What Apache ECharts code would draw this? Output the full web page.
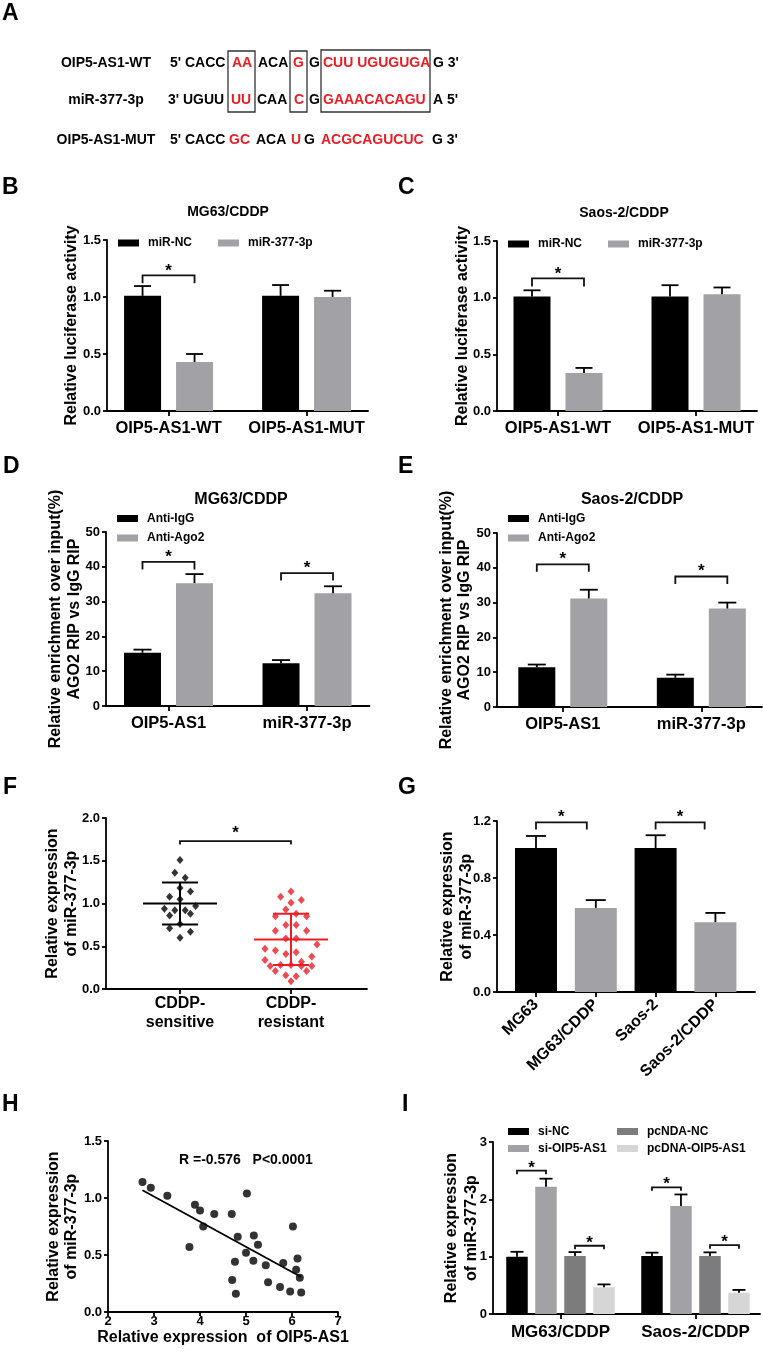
<!DOCTYPE html>
<html>
<head>
<meta charset="utf-8">
<title>OIP5-AS1 / miR-377-3p figure</title>
<script src="https://cdn.jsdelivr.net/npm/echarts@6.0.0/dist/echarts.min.js"></script>
<style>
html,body{margin:0;padding:0;background:#ffffff;}
#chart{width:763px;height:1352px;}
</style>
</head>
<body>
<div id="chart"></div>
<script>
// ================= DATA =================
// Panel A: sequences (segment text, highlighted flag)
const seqLabels = ['OIP5-AS1-WT', 'miR-377-3p', 'OIP5-AS1-MUT'];
const seqWT  = [["5' CACC",0],["AA",1],["ACA",0],["G",1],["G",0],["CUU UGUGUGA",1],["G 3'",0]];
const seqMiR = [["3' UGUU",0],["UU",1],["CAA",0],["C",1],["G",0],["GAAACACAGU",1],["A 5'",0]];
const seqMUT = [["5' CACC",0],["GC",1],["ACA",0],["U",1],["G",0],["ACGCAGUCUC",1],["G 3'",0]];

// Panels B / C: luciferase
const lucCats = ['OIP5-AS1-WT', 'OIP5-AS1-MUT'];
const mgLucNC = [1.01, 1.01],  mgLucNCErr = [0.086, 0.095];
const mgLuc377 = [0.43, 1.00], mgLuc377Err = [0.07, 0.055];
const saLucNC = [1.01, 1.01],  saLucNCErr = [0.055, 0.10];
const saLuc377 = [0.335, 1.03], saLuc377Err = [0.045, 0.06];

// Panels D / E: RIP
const ripCats = ['OIP5-AS1', 'miR-377-3p'];
const mgIgG = [15.3, 12.3],  mgIgGErr = [0.9, 0.9];
const mgAgo2 = [35.3, 32.4], mgAgo2Err = [2.6, 2.0];
const saIgG = [11.4, 8.4],   saIgGErr = [0.8, 0.9];
const saAgo2 = [31.2, 28.3], saAgo2Err = [2.5, 1.7];

// Panel F: scatter (column slot, value)
const fCats = ['CDDP-\nsensitive', 'CDDP-\nresistant'];
const sensSlot = [0,-1,1,0,2,-2,0,3,-3,-1,1,2,-2,0,-2,2,0];
const sensVal  = [1.51,1.36,1.30,1.18,1.14,1.08,1.05,0.97,0.94,0.92,0.92,0.88,0.86,0.76,0.71,0.67,0.60];
const resSlot = [0,-2,2,0,-1,1,-3,3,-1,1,-3,3,-1,1,5,-5,-3,-1,1,4,-5,2,-4,-2,0,2,4,-3,3,-1,1,0];
const resVal  = [1.14,1.08,1.04,1.01,0.93,0.88,0.85,0.85,0.75,0.75,0.68,0.68,0.59,0.59,0.52,0.47,0.45,0.41,0.43,0.38,0.34,0.32,0.27,0.28,0.28,0.27,0.27,0.21,0.21,0.16,0.15,0.09];
const fMean = [1.00, 0.58];
const fSD   = [0.245, 0.30];

// Panel G: cell lines
const cellCats = ['MG63', 'MG63/CDDP', 'Saos-2', 'Saos-2/CDDP'];
const cellExpr = [1.01, 0.59, 1.01, 0.49];
const cellErr  = [0.085, 0.055, 0.09, 0.065];

// Panel H: correlation
const hX = [2.75,2.93,3.29,3.89,4.00,4.31,4.69,5.02,4.07,3.77,4.82,5.17,5.26,6.02,5.00,4.76,5.16,5.43,5.81,6.12,6.09,4.70,4.78,5.48,5.74,5.96,6.17,6.20];
const hY = [1.14,1.09,1.02,0.94,0.89,0.86,0.86,1.04,0.75,0.57,0.66,0.67,0.59,0.75,0.52,0.44,0.45,0.41,0.43,0.47,0.37,0.28,0.16,0.26,0.22,0.18,0.30,0.17];
const hFit = [1.674, -0.2204]; // intercept, slope
const hStat = 'R =-0.576   P<0.0001';

// Panel I
const iCats = ['MG63/CDDP', 'Saos-2/CDDP'];
const siNC  = [1.00, 1.01],  siNCErr  = [0.085, 0.06];
const siOIP = [2.22, 1.885], siOIPErr = [0.14, 0.20];
const pcNC  = [1.01, 1.01],  pcNCErr  = [0.07, 0.065];
const pcOIP = [0.466, 0.372], pcOIPErr = [0.05, 0.048];

// significance brackets: [group, fromSeries, toSeries, level]
const sigB = [[0,0,1,1.19]];
const sigC = [[0,0,1,1.17]];
const sigD = [[0,0,1,41.4],[1,0,1,38.2]];
const sigE = [[0,0,1,41.0],[1,0,1,37.5]];
const sigI = [[0,0,1,2.50],[0,2,3,1.19],[1,0,1,2.21],[1,2,3,1.20]];
const sigF = [[0,1,1.73]];           // [xStart, xEnd, level]
const sigG = [[0,0.85,1.19],[2,2.82,1.19]];

// ================= STYLE / LAYOUT =================
const FONT = '"Liberation Sans", Arial, Helvetica, sans-serif';
const C_BLACK = '#000000', C_GRAY = '#a2a2a6', C_DGRAY = '#7c7c7e', C_LGRAY = '#d6d6d6', C_RED = '#ec1c24';
const AX_W = 1.8;
const cellColors = [C_BLACK, C_GRAY, C_BLACK, C_GRAY];

const LAY = {
  B:{left:107, top:240, width:261, height:171, xMin:-0.446, xMax:1.445},
  C:{left:497, top:241, width:260, height:170, xMin:-0.442, xMax:1.442},
  D:{left:106, top:532, width:263.5, height:174, xMin:-0.451, xMax:1.451},
  E:{left:497, top:533, width:265, height:174, xMin:-0.475, xMax:1.438},
  F:{left:106, top:818, width:261, height:171, xMin:-0.667, xMax:1.685},
  G:{left:497, top:821, width:258, height:171, xMin:-0.652, xMax:3.662},
  H:{left:108, top:1141, width:230, height:171},
  I:{left:493, top:1142, width:267, height:172, xMin:-0.5, xMax:1.478}
};

const grids = [], xAxes = [], yAxes = [], series = [], legends = [], elements = [];

function txt(text, x, y, size, color, align) {
  elements.push({type:'text', x:x, y:y, silent:true, z:10,
    style:{text:text, fill:color || '#000', font:'bold ' + size + 'px ' + FONT,
      textAlign:align || 'left', textVerticalAlign:'middle', align:align || 'left', verticalAlign:'middle'}});
}
function box(x, y, w, h) {
  elements.push({type:'rect', silent:true, z:9, shape:{x:x, y:y, width:w, height:h},
    style:{fill:'none', stroke:'#333', lineWidth:1.3}});
}
function addGrid(L) {
  grids.push({left:L.left, top:L.top, width:L.width, height:L.height, containLabel:false, outerBoundsMode:'none'});
  return grids.length - 1;
}
function catXAxis(gi, L, cats, lab) {
  const ticks = cats.map(function (c, i) { return i; });
  xAxes.push({gridIndex:gi, type:'value', min:L.xMin, max:L.xMax, splitLine:{show:false},
    axisLine:{show:true, onZero:false, lineStyle:{color:'#000', width:AX_W}},
    axisTick:{show:true, length:5, customValues:ticks, lineStyle:{color:'#000', width:AX_W}},
    axisLabel:Object.assign({show:true, customValues:ticks, formatter:function (v) { return cats[Math.round(v)]; },
      color:'#000', fontFamily:FONT, fontWeight:'bold', fontSize:16.5, lineHeight:18, margin:8, hideOverlap:false}, lab || {})});
}
function valYAxis(gi, y) {
  yAxes.push({gridIndex:gi, type:'value', min:0, max:y.max, interval:y.interval, splitLine:{show:false},
    axisLine:{show:true, onZero:false, lineStyle:{color:'#000', width:AX_W}},
    axisTick:{show:true, length:4, lineStyle:{color:'#000', width:AX_W}},
    axisLabel:{color:'#000', fontFamily:FONT, fontWeight:'bold', fontSize:13, margin:6,
      formatter:function (v) { return v.toFixed(y.digits); }},
    name:y.name, nameLocation:'middle', nameRotate:90, nameGap:y.nameGap, nameMoveOverlap:false,
    nameTextStyle:{color:'#000', fontFamily:FONT, fontWeight:'bold', fontSize:16, lineHeight:y.lh || 18}});
}
function errSeries(gi, vals, errs, offPx, cap) {
  series.push({type:'custom', xAxisIndex:gi, yAxisIndex:gi, silent:true, z:5, clip:false,
    data: vals.map(function (v, i) { return [i, v, errs[i]]; }), encode:{x:0, y:1},
    renderItem: function (params, api) {
      const p = api.coord([api.value(0), api.value(1)]);
      const q = api.coord([api.value(0), api.value(1) + api.value(2)]);
      const x = p[0] + offPx;
      const st = {stroke:'#000', lineWidth:AX_W};
      return {type:'group', children:[
        {type:'line', shape:{x1:x, y1:p[1], x2:x, y2:q[1]}, style:st},
        {type:'line', shape:{x1:x - cap / 2, y1:q[1], x2:x + cap / 2, y2:q[1]}, style:st}]};
    }});
}
function sigSeries(gi, items, legPx, starPx) {
  series.push({type:'custom', xAxisIndex:gi, yAxisIndex:gi, silent:true, z:6, clip:false,
    data: items, encode:{x:[0, 1], y:2},
    renderItem: function (params, api) {
      const a = api.coord([api.value(0), api.value(2)]);
      const b = api.coord([api.value(1), api.value(2)]);
      return {type:'group', children:[
        {type:'polyline', shape:{points:[[a[0], a[1] + legPx], [a[0], a[1]], [b[0], a[1]], [b[0], a[1] + legPx]]},
          style:{stroke:'#111', lineWidth:AX_W, fill:'none'}},
        {type:'text', style:{text:'*', x:(a[0] + b[0]) / 2, y:a[1] - starPx, fill:'#000', font:'bold 17px ' + FONT,
          align:'center', verticalAlign:'middle', textAlign:'center', textVerticalAlign:'middle'}}]};
    }});
}
function barPanel(o) {
  const gi = addGrid(o.L);
  catXAxis(gi, o.L, o.cats, o.xl);
  valYAxis(gi, o.y);
  const n = o.groups.length;
  const unitPx = o.L.width / (o.L.xMax - o.L.xMin);
  const off = function (s) { return (s - (n - 1) / 2) * (o.bw + o.gapPx); };
  o.groups.forEach(function (g) {
    series.push({type:'bar', name:g.name, xAxisIndex:gi, yAxisIndex:gi, barWidth:o.bw,
      barGap:(o.gapPx / o.bw * 100).toFixed(1) + '%', silent:true, z:2,
      itemStyle:{color:g.color, borderWidth:0},
      data:g.vals.map(function (v, i) { return [i, v]; })});
  });
  o.groups.forEach(function (g, s) { errSeries(gi, g.vals, g.errs, off(s), o.cap); });
  sigSeries(gi, o.sig.map(function (it) {
    return [it[0] + off(it[1]) / unitPx, it[0] + off(it[2]) / unitPx, it[3]];
  }), o.legPx, o.starPx);
}
function legend(names, left, top, orient, gap) {
  legends.push({data:names, left:left, top:top, orient:orient, itemWidth:21, itemHeight:7, itemGap:gap,
    icon:'rect', padding:0, selectedMode:false,
    textStyle:{color:'#000', fontFamily:FONT, fontWeight:'bold', fontSize:12, lineHeight:14, padding:[0, 0, 0, 4]}});
}

// ================= PANEL A =================
const seqRows = [seqWT, seqMiR, seqMUT];
const rowY = [63, 100, 140];
const segX = [[170,232,258,293,309,323,433],[168,231,257,294,309,323,433],[170,229,256,291,304,321,432]];
seqLabels.forEach(function (l, r) { txt(l, 106, rowY[r], 14, '#000', 'center'); });
seqRows.forEach(function (row, r) {
  row.forEach(function (seg, k) { txt(seg[0], segX[r][k], rowY[r], 14, seg[1] ? C_RED : '#000', 'left'); });
});
box(228, 51, 27, 61); box(290, 51, 17, 61); box(321, 50, 109, 62);

// panel letters
[['A',2,13.5],['B',2,188],['C',398,188],['D',3,467],['E',398,467],['F',3,788],['G',398,788],['H',2,1105],['I',402,1105]]
  .forEach(function (p) { txt(p[0], p[1], p[2], 23, '#000', 'left'); });

// titles
txt('MG63/CDDP', 228, 212, 14, '#000', 'center');
txt('Saos-2/CDDP', 624, 213, 14, '#000', 'center');
txt('MG63/CDDP', 241, 500, 16, '#000', 'center');
txt('Saos-2/CDDP', 632, 500, 16, '#000', 'center');
txt(hStat, 179, 1160, 14, '#000', 'left');

// ================= PANELS B-E, I =================
barPanel({L:LAY.B, cats:lucCats, bw:37, gapPx:15, cap:17, legPx:8, starPx:4.5, sig:sigB,
  groups:[{name:'miR-NC', vals:mgLucNC, errs:mgLucNCErr, color:C_BLACK},
          {name:'miR-377-3p', vals:mgLuc377, errs:mgLuc377Err, color:C_GRAY}],
  y:{max:1.5, interval:0.5, digits:1, name:'Relative luciferase activity', nameGap:26, lh:18}});
barPanel({L:LAY.C, cats:lucCats, bw:37, gapPx:15, cap:17, legPx:8, starPx:4.5, sig:sigC,
  groups:[{name:'miR-NC', vals:saLucNC, errs:saLucNCErr, color:C_BLACK},
          {name:'miR-377-3p', vals:saLuc377, errs:saLuc377Err, color:C_GRAY}],
  y:{max:1.5, interval:0.5, digits:1, name:'Relative luciferase activity', nameGap:25, lh:18}});
barPanel({L:LAY.D, cats:ripCats, bw:37, gapPx:15, cap:18, legPx:7.5, starPx:5, sig:sigD,
  groups:[{name:'Anti-IgG', vals:mgIgG, errs:mgIgGErr, color:C_BLACK},
          {name:'Anti-Ago2', vals:mgAgo2, errs:mgAgo2Err, color:C_GRAY}],
  y:{max:50, interval:10, digits:0, name:'Relative enrichment over input(%)\nAGO2 RIP vs IgG RIP', nameGap:21.5, lh:19}});
barPanel({L:LAY.E, cats:ripCats, bw:37, gapPx:15, cap:18, legPx:7.5, starPx:5, sig:sigE,
  groups:[{name:'Anti-IgG', vals:saIgG, errs:saIgGErr, color:C_BLACK},
          {name:'Anti-Ago2', vals:saAgo2, errs:saAgo2Err, color:C_GRAY}],
  y:{max:50, interval:10, digits:0, name:'Relative enrichment over input(%)\nAGO2 RIP vs IgG RIP', nameGap:23, lh:18.5}});
barPanel({L:LAY.I, cats:iCats, bw:21.5, gapPx:7.5, cap:13, legPx:3.5, starPx:2.5, sig:sigI,
  xl:{margin:9, fontSize:17},
  groups:[{name:'si-NC', vals:siNC, errs:siNCErr, color:C_BLACK},
          {name:'si-OIP5-AS1', vals:siOIP, errs:siOIPErr, color:C_GRAY},
          {name:'pcNDA-NC', vals:pcNC, errs:pcNCErr, color:C_DGRAY},
          {name:'pcDNA-OIP5-AS1', vals:pcOIP, errs:pcOIPErr, color:C_LGRAY}],
  y:{max:3, interval:1, digits:0, name:'Relative expression\nof miR-377-3p', nameGap:11, lh:20}});

legend(['miR-NC', 'miR-377-3p'], 118, 236, 'horizontal', 26);
legend(['miR-NC', 'miR-377-3p'], 508, 237, 'horizontal', 26);
legend(['Anti-IgG', 'Anti-Ago2'], 117, 511.5, 'vertical', 5.5);
legend(['Anti-IgG', 'Anti-Ago2'], 508, 511.5, 'vertical', 5.5);
legend(['si-NC', 'si-OIP5-AS1'], 508, 1124.5, 'vertical', 3);
legend(['pcNDA-NC', 'pcDNA-OIP5-AS1'], 617, 1124.5, 'vertical', 3);

// ================= PANEL F =================
(function () {
  const L = LAY.F;
  const gi = addGrid(L);
  catXAxis(gi, L, fCats, {fontSize:16, lineHeight:19, margin:5.5});
  valYAxis(gi, {max:2, interval:0.5, digits:1, name:'Relative expression\nof miR-377-3p', nameGap:24.5, lh:19});
  const slotU = 5.2 / (L.width / (L.xMax - L.xMin));
  series.push({type:'scatter', xAxisIndex:gi, yAxisIndex:gi, silent:true, z:2, symbol:'diamond', symbolSize:[7, 8],
    itemStyle:{color:C_BLACK}, data:sensVal.map(function (v, i) { return [0 + sensSlot[i] * slotU, v]; })});
  series.push({type:'scatter', xAxisIndex:gi, yAxisIndex:gi, silent:true, z:2, symbol:'diamond', symbolSize:[7, 8],
    itemStyle:{color:C_RED}, data:resVal.map(function (v, i) { return [1 + resSlot[i] * slotU, v]; })});
  const mColors = [C_BLACK, C_RED];
  series.push({type:'custom', xAxisIndex:gi, yAxisIndex:gi, silent:true, z:3, clip:false,
    data:fMean.map(function (m, i) { return [i, m, fSD[i]]; }), encode:{x:0, y:1},
    renderItem:function (params, api) {
      const g = api.value(0), m = api.value(1), s = api.value(2);
      const c = api.coord([g, m]), t = api.coord([g, m + s]), b = api.coord([g, m - s]);
      const st = {stroke:mColors[params.dataIndex], lineWidth:2};
      return {type:'group', children:[
        {type:'line', shape:{x1:c[0] - 37, y1:c[1], x2:c[0] + 37, y2:c[1]}, style:st},
        {type:'line', shape:{x1:c[0] - 18, y1:t[1], x2:c[0] + 18, y2:t[1]}, style:st},
        {type:'line', shape:{x1:c[0] - 18, y1:b[1], x2:c[0] + 18, y2:b[1]}, style:st},
        {type:'line', shape:{x1:c[0], y1:t[1], x2:c[0], y2:b[1]}, style:st}]};
    }});
  sigSeries(gi, sigF, 3.5, 8);
})();

// ================= PANEL G =================
(function () {
  const L = LAY.G;
  const gi = addGrid(L);
  catXAxis(gi, L, cellCats, {rotate:45, margin:10, fontSize:16, lineHeight:18});
  valYAxis(gi, {max:1.2, interval:0.4, digits:1, name:'Relative expression\nof miR-377-3p', nameGap:21, lh:19});
  series.push({type:'bar', xAxisIndex:gi, yAxisIndex:gi, barWidth:42, silent:true, z:2,
    data:cellExpr.map(function (v, i) { return {value:[i, v], itemStyle:{color:cellColors[i], borderWidth:0}}; })});
  errSeries(gi, cellExpr, cellErr, 0, 20);
  sigSeries(gi, sigG, 7, 5);
})();

// ================= PANEL H =================
(function () {
  const L = LAY.H;
  const gi = addGrid(L);
  xAxes.push({gridIndex:gi, type:'value', min:2, max:7, interval:1, splitLine:{show:false},
    axisLine:{show:true, onZero:false, lineStyle:{color:'#000', width:AX_W}},
    axisTick:{show:true, length:4, lineStyle:{color:'#000', width:AX_W}},
    axisLabel:{color:'#000', fontFamily:FONT, fontWeight:'bold', fontSize:13, margin:3},
    name:'Relative expression  of OIP5-AS1', nameLocation:'middle', nameGap:17, nameMoveOverlap:false,
    nameTextStyle:{color:'#000', fontFamily:FONT, fontWeight:'bold', fontSize:16, lineHeight:18}});
  valYAxis(gi, {max:1.5, interval:0.5, digits:1, name:'Relative expression\nof miR-377-3p', nameGap:27.5, lh:18});
  series.push({type:'scatter', xAxisIndex:gi, yAxisIndex:gi, silent:true, z:3, symbol:'circle', symbolSize:8,
    itemStyle:{color:'#000'}, data:hX.map(function (x, i) { return [x, hY[i]]; })});
  const x0 = Math.min.apply(null, hX), x1 = Math.max.apply(null, hX);
  series.push({type:'line', xAxisIndex:gi, yAxisIndex:gi, silent:true, z:2, symbol:'none',
    lineStyle:{color:'#000', width:AX_W}, data:[[x0, hFit[0] + hFit[1] * x0], [x1, hFit[0] + hFit[1] * x1]]});
})();

// ================= RENDER =================
const chart = echarts.init(document.getElementById('chart'), null, {renderer:'canvas', width:763, height:1352});
chart.setOption({
  animation:false,
  backgroundColor:'#ffffff',
  textStyle:{fontFamily:FONT},
  grid:grids, xAxis:xAxes, yAxis:yAxes, legend:legends, series:series,
  graphic:{elements:elements}
});
</script>
</body>
</html>
